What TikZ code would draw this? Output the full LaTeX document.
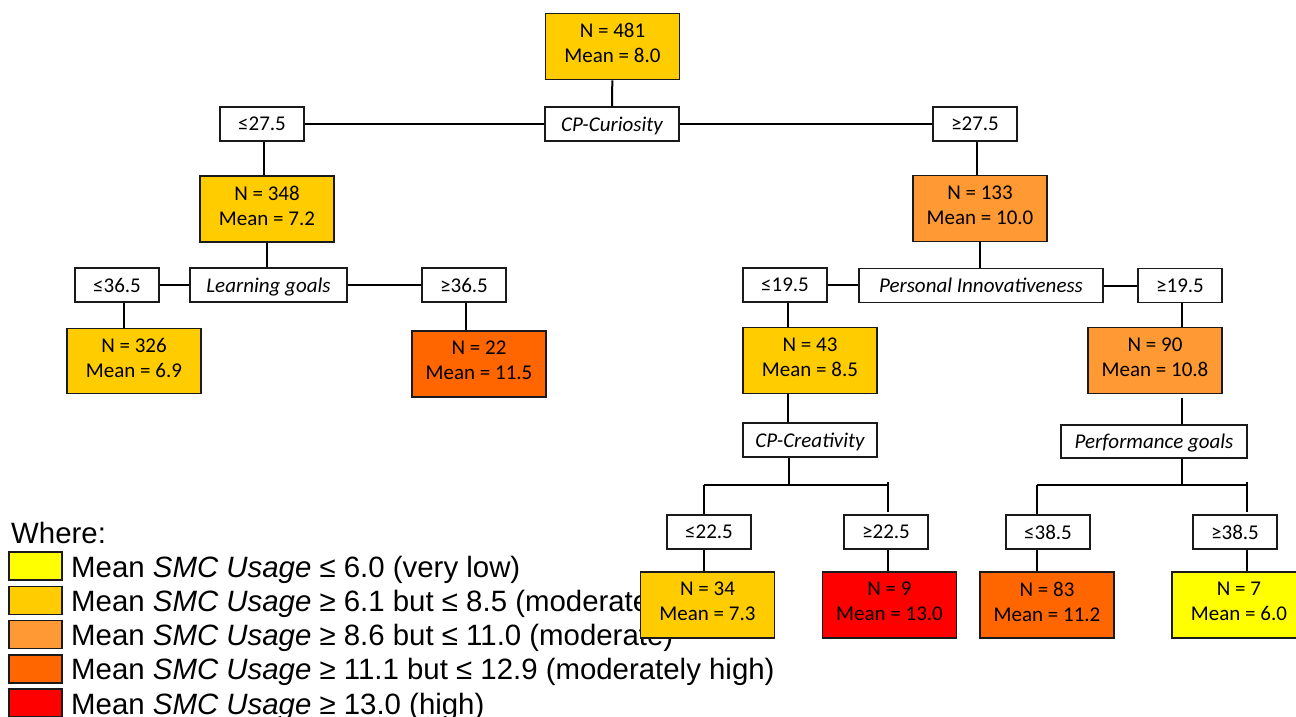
\documentclass[tikz,border=0pt]{standalone}
\usepackage{fontspec}
\newfontfamily\carl{Carlito}
\newfontfamily\arialx{Liberation Sans}
\definecolor{cgold}{HTML}{FFCC00}
\definecolor{clorange}{HTML}{FF9933}
\definecolor{corange}{HTML}{FF6600}
\definecolor{cred}{HTML}{FF0000}
\definecolor{cyellow}{HTML}{FFFF00}
\definecolor{cborder}{HTML}{1A1A1A}
\newcommand\liftup{\\[-18pt]\mbox{}}
\tikzset{
  stat/.style={draw=cborder, line width=1.7pt, minimum width=134pt, minimum height=66pt,
    inner sep=0pt, align=center, font=\carl\fontsize{21}{25}\selectfont},
  cond/.style={draw=cborder, fill=white, line width=1.7pt, minimum width=84pt, minimum height=34pt,
    inner sep=0pt, font=\carl\fontsize{21}{25}\selectfont},
  var/.style={draw=cborder, fill=white, line width=1.7pt, minimum height=34pt,
    inner sep=0pt, text height=17pt, text depth=3pt, font=\carl\itshape\fontsize{21}{25}\selectfont},
  conn/.style={line width=2pt, black},
  swatch/.style={draw=cborder, line width=1.6pt, minimum width=53pt, minimum height=28pt, inner sep=0pt},
  legtext/.style={anchor=base west, inner sep=0pt, font=\arialx\fontsize{29.4}{34}\selectfont},
}
\begin{document}
\begin{tikzpicture}[x=1pt,y=-1pt]
\useasboundingbox (0,0) rectangle (1296,716);
% legend (drawn first, partly covered by tree boxes)
\node[legtext] (where) at (11,543) {Where:};
\node[swatch, fill=cyellow] (s1) at (35.5,566) {};
\node[swatch, fill=cgold] (s2) at (35.5,600.3) {};
\node[swatch, fill=clorange] (s3) at (35.5,634.6) {};
\node[swatch, fill=corange] (s4) at (35.5,668.9) {};
\node[swatch, fill=cred] (s5) at (35.5,703.2) {};
\node[legtext] (t1) at (71,577) {Mean \textit{SMC Usage} ≤ 6.0 (very low)};
\node[legtext] (t2) at (71,611.3) {Mean \textit{SMC Usage} ≥ 6.1 but ≤ 8.5 (moderately low)};
\node[legtext] (t3) at (71,645.6) {Mean \textit{SMC Usage} ≥ 8.6 but ≤ 11.0 (moderate)};
\node[legtext] (t4) at (71,679.9) {Mean \textit{SMC Usage} ≥ 11.1 but ≤ 12.9 (moderately high)};
\node[legtext] (t5) at (71,714.2) {Mean \textit{SMC Usage} ≥ 13.0 (high)};
% tree nodes
\node[stat, fill=cgold] (n481) at (612.5,46.5) {N = 481\\Mean = 8.0\liftup};
\node[var, minimum width=134pt] (cpcur) at (612,124) {CP-Curiosity};
\node[cond] (le275) at (262,124) {≤27.5};
\node[cond] (ge275) at (975,124) {≥27.5};
\node[stat, fill=cgold] (n348) at (267,209) {N = 348\\Mean = 7.2\liftup};
\node[var, minimum width=157pt] (lgoal) at (268.5,285) {Learning goals};
\node[cond] (le365) at (117,285) {≤36.5};
\node[cond] (ge365) at (464,285) {≥36.5};
\node[stat, fill=cgold, minimum height=65pt] (n326) at (134,361) {N = 326\\Mean = 6.9\liftup};
\node[stat, fill=corange] (n22) at (479,364) {N = 22\\Mean = 11.5\liftup};
\node[stat, fill=clorange] (n133) at (980,208.5) {N = 133\\Mean = 10.0\liftup};
\node[var, minimum width=244pt] (pinn) at (981,285.5) {Personal Innovativeness};
\node[cond] (le195) at (785,285) {≤19.5};
\node[cond] (ge195) at (1180,285.5) {≥19.5};
\node[stat, fill=cgold] (n43) at (810,360.5) {N = 43\\Mean = 8.5\liftup};
\node[stat, fill=clorange] (n90) at (1155,360.5) {N = 90\\Mean = 10.8\liftup};
\node[var, minimum width=134pt] (cpcre) at (810,440) {CP-Creativity};
\node[var, minimum width=186pt, minimum height=33pt] (perf) at (1154,441.5) {Performance goals};
\node[cond] (le225) at (709,532) {≤22.5};
\node[cond] (ge225) at (886,532) {≥22.5};
\node[cond] (le385) at (1048,532) {≤38.5};
\node[cond] (ge385) at (1235,532) {≥38.5};
\node[stat, fill=cgold] (n34) at (707.5,605) {N = 34\\Mean = 7.3\liftup};
\node[stat, fill=cred] (n9) at (889.5,605) {N = 9\\Mean = 13.0\liftup};
\node[stat, fill=corange] (n83) at (1047,605) {N = 83\\Mean = 11.2\liftup};
\node[stat, fill=cyellow] (n7) at (1239,605) {N = 7\\Mean = 6.0\liftup};
% helper coordinates
\coordinate (x264) at (264,0);
\coordinate (x124) at (124,0);
\coordinate (x466) at (466,0);
\coordinate (x977) at (977,0);
\coordinate (x788) at (788,0);
\coordinate (x1182) at (1182,0);
\coordinate (cL) at (703.5,485);
\coordinate (cM) at (789,485);
\coordinate (cR) at (888,485);
\coordinate (pL) at (1037,485);
\coordinate (pM) at (1182,485);
\coordinate (pR) at (1247,485);
% connectors
\draw[conn] (n481) -- (cpcur);
\draw[conn] (le275) -- (cpcur);
\draw[conn] (cpcur) -- (ge275);
\draw[conn] (le275.south -| x264) -- (n348.north -| x264);
\draw[conn] (n348) -- (n348 |- lgoal.north);
\draw[conn] (le365) -- (lgoal);
\draw[conn] (lgoal) -- (ge365);
\draw[conn] (le365.south -| x124) -- (n326.north -| x124);
\draw[conn] (ge365.south -| x466) -- (n22.north -| x466);
\draw[conn] (ge275.south -| x977) -- (n133.north -| x977);
\draw[conn] (n133) -- (n133 |- pinn.north);
\draw[conn] (le195.east) -- (pinn.west |- le195.east);
\draw[conn] (pinn.east |- ge195.west) -- (ge195.west);
\draw[conn] (le195.south -| x788) -- (n43.north -| x788);
\draw[conn] (ge195.south -| x1182) -- (n90.north -| x1182);
\draw[conn] (n43.south -| x788) -- (cpcre.north -| x788);
\draw[conn] ([yshift=-4pt]n90.south -| x1182) -- (perf.north -| x1182);
% CP-Creativity split
\draw[conn] (cpcre.south -| cM) -- (cM);
\draw[conn] (cL) -- (cR);
\draw[conn] (cL) -- (cL |- le225.north);
\draw[conn] ([yshift=3pt]cR) -- ([yshift=2pt]cR |- ge225.north);
\draw[conn] (le225.south -| cL) -- (n34.north -| cL);
\draw[conn] (ge225.south -| cR) -- (n9.north -| cR);
% Performance goals split
\draw[conn] (perf.south -| pM) -- (pM);
\draw[conn] (pL) -- (pR);
\draw[conn] (pL) -- (pL |- le385.north);
\draw[conn] ([yshift=3pt]pR) -- ([yshift=2pt]pR |- ge385.north);
\draw[conn] (le385.south -| pL) -- (n83.north -| pL);
\draw[conn] (ge385.south -| pR) -- (n7.north -| pR);
\end{tikzpicture}
\end{document}
